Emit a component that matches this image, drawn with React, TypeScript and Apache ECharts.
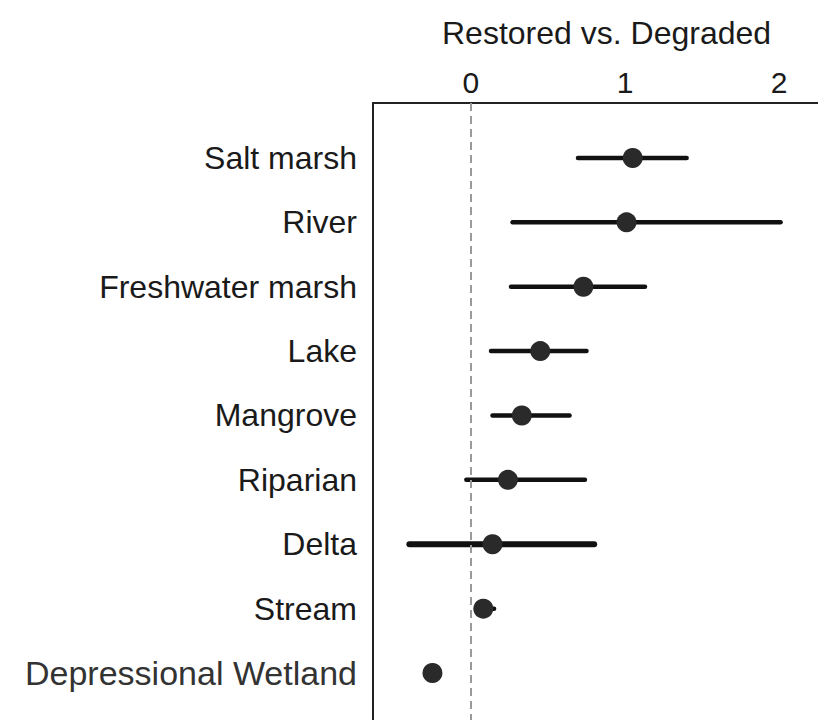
import React, { useEffect, useRef } from "react";
import * as echarts from "echarts";

const categories = [
  "Salt marsh",
  "River",
  "Freshwater marsh",
  "Lake",
  "Mangrove",
  "Riparian",
  "Delta",
  "Stream",
  "Depressional Wetland",
];
const estimates = [1.05, 1.01, 0.73, 0.45, 0.33, 0.24, 0.14, 0.08, -0.25];
const lower = [0.695, 0.27, 0.26, 0.13, 0.14, -0.03, -0.4, 0.06, null];
const upper = [1.4, 2.01, 1.13, 0.75, 0.64, 0.74, 0.8, 0.15, null];
const xTicks = [0, 1, 2];
const axisTitle = "Restored vs. Degraded";

export default function App() {
  const ref = useRef<HTMLDivElement>(null);
  useEffect(() => {
    if (!ref.current) return;
    const chart = echarts.init(ref.current, undefined, { renderer: "svg" });
    const idx = categories.map((_, i) => i);
    const whiskerData = categories
      .map((c, i) => [lower[i], upper[i], i])
      .filter((d) => d[0] !== null && d[1] !== null);
    const font = "Arial, 'Liberation Sans', Helvetica, sans-serif";
    chart.setOption({
      animation: false,
      backgroundColor: "#fff",
      title: {
        text: axisTitle,
        left: 437,
        top: 12,
        textStyle: { fontFamily: font, fontSize: 32, fontWeight: "normal", color: "#1a1a1a" },
      },
      grid: { left: 373, right: 0, top: 103, bottom: 0, containLabel: false },
      xAxis: {
        type: "value",
        position: "top",
        min: -0.636,
        max: 2.253,
        axisLine: { show: true, onZero: false, lineStyle: { color: "#222", width: 2 } },
        axisTick: { show: false },
        splitLine: { show: false },
        axisLabel: {
          customValues: xTicks,
          fontFamily: font,
          fontSize: 30,
          color: "#1a1a1a",
          margin: 6,
        },
      },
      yAxis: {
        type: "value",
        inverse: true,
        min: -0.854,
        max: 8.73,
        axisLine: { show: true, onZero: false, lineStyle: { color: "#222", width: 2 } },
        axisTick: { show: false },
        splitLine: { show: false },
        axisLabel: {
          customValues: idx,
          margin: 16,
          formatter: (v: number) => {
            const name = categories[Math.round(v)] ?? "";
            return name === "Depressional Wetland" ? `{big|${name}}` : `{n|${name}}`;
          },
          rich: {
            n: { fontFamily: font, fontSize: 32, color: "#1a1a1a" },
            big: { fontFamily: font, fontSize: 34, color: "#333" },
          },
        },
      },
      series: [
        {
          type: "custom",
          data: whiskerData,
          renderItem: (params: any, api: any) => {
            const a = api.coord([api.value(0), api.value(2)]);
            const b = api.coord([api.value(1), api.value(2)]);
            const name = categories[api.value(2)];
            return {
              type: "line",
              shape: { x1: a[0], y1: a[1], x2: b[0], y2: b[1] },
              style: { stroke: "#111", lineWidth: name === "Delta" ? 6 : 4.5, lineCap: "round" },
            };
          },
          z: 2,
        },
        {
          type: "scatter",
          data: estimates.map((v, i) => [v, i]),
          symbol: "circle",
          symbolSize: 20,
          itemStyle: { color: "#2a2a2a", opacity: 1 },
          z: 3,
          markLine: {
            silent: true,
            symbol: "none",
            label: { show: false },
            lineStyle: { color: "#9a9a9a", width: 2, type: [8, 5] },
            data: [{ xAxis: 0 }],
          },
        },
      ],
    });
    return () => chart.dispose();
  }, []);
  return (
    <div
      ref={ref}
      style={{ position: "fixed", left: 0, top: 0, width: 818, height: 720, background: "#fff" }}
    />
  );
}
